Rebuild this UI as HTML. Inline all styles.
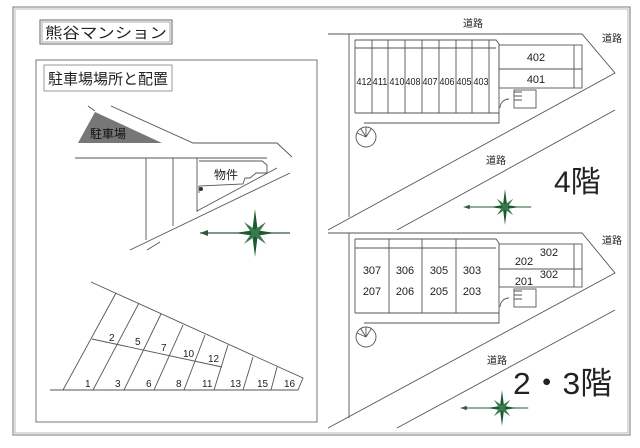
<!DOCTYPE html>
<html><head><meta charset="utf-8"><style>
body{margin:0;background:#fff}
svg{display:block}
text{font-family:"Liberation Sans","Noto Sans CJK JP",sans-serif;fill:#222}
</style></head><body>
<svg width="640" height="448" viewBox="0 0 640 448" xmlns="http://www.w3.org/2000/svg">
<defs>
<g id="cmp">
 <line x1="-55" y1="0" x2="35" y2="0" stroke="#2a5a3a" stroke-width="1.2"/>
 <polygon points="-55,0 -47,-3 -47,3" fill="#2a5a3a"/>
 <polygon points="0,-24 3,0 0,24 -3,0" fill="#1e5a30"/>
 <polygon points="-20,0 0,-3 20,0 0,3" fill="#1e5a30"/>
 <polygon points="-11,-11 2,-2 11,11 -2,2" fill="#3a7a4a"/>
 <polygon points="11,-11 2,2 -11,11 -2,-2" fill="#3a7a4a"/>
</g>
</defs>
<g fill="none" stroke="#777" stroke-width="1">
<rect x="13" y="7" width="617" height="428"/>
<rect x="15" y="9" width="613" height="424" stroke="#bbb"/>
<rect x="36" y="60" width="281" height="362"/>
<rect x="40" y="20" width="132" height="24" stroke="#666"/>
<rect x="42" y="22" width="128" height="20" stroke="#aaa"/>
<rect x="44" y="65" width="128" height="26" stroke="#999"/>
</g>
<text x="45" y="38" font-size="15" textLength="122" lengthAdjust="spacingAndGlyphs">熊谷マンション</text>
<text x="48" y="84" font-size="15" textLength="120" lengthAdjust="spacingAndGlyphs">駐車場場所と配置</text>
<!-- left map -->
<g fill="none" stroke="#555" stroke-width="0.9">
<polyline points="111,106 193,143 277,143 292,157"/>
<line x1="88" y1="106" x2="95" y2="111"/>
<line x1="75" y1="158" x2="267" y2="158"/>
<polyline points="199,161 262,161 267,165 267,173 256,173 250,178 245,178 243,184 199,186 199,193"/>
<line x1="290" y1="173" x2="130" y2="250"/>
<line x1="277" y1="168" x2="197" y2="211"/>
<line x1="160" y1="242" x2="147" y2="250"/>
<line x1="146" y1="158" x2="146" y2="240"/>
<line x1="173" y1="158" x2="173" y2="226"/>
<line x1="197" y1="158" x2="197" y2="212"/>
</g>
<polygon points="95,112 78,143 162,143" fill="#777"/>
<text x="90" y="138" font-size="12" style="fill:#111">駐車場</text>
<circle cx="201" cy="189" r="2" fill="#333"/>
<text x="214" y="179" font-size="12">物件</text>
<use href="#cmp" transform="translate(255,233)"/>
<!-- parking lots -->
<g fill="none" stroke="#555" stroke-width="0.9">
<polyline points="91,282 303,378 298,390 50,390"/>
<line x1="116" y1="293" x2="63" y2="390"/>
<line x1="139" y1="303" x2="93" y2="390"/>
<line x1="161" y1="314" x2="124" y2="390"/>
<line x1="183" y1="325" x2="154" y2="390"/>
<line x1="205" y1="335" x2="184" y2="390"/>
<line x1="228" y1="345" x2="214" y2="390"/>
<line x1="253" y1="357" x2="243" y2="390"/>
<line x1="277" y1="367" x2="271" y2="390"/>
<line x1="92" y1="339" x2="222" y2="367"/>
</g>
<g font-size="10">
<text x="85" y="387">1</text><text x="115" y="387">3</text><text x="146" y="387">6</text><text x="176" y="387">8</text><text x="202" y="387">11</text><text x="230" y="387">13</text><text x="257" y="387">15</text><text x="284" y="387">16</text>
<text x="109" y="341">2</text><text x="135" y="345">5</text><text x="161" y="351">7</text><text x="183" y="357">10</text><text x="208" y="362">12</text>
</g>
<!-- 4F -->
<g fill="none" stroke="#555" stroke-width="0.9">
<polyline points="328,34 582,34 615,73 328,230"/>
<line x1="615" y1="110" x2="397" y2="230"/>
<line x1="349" y1="34" x2="349" y2="217"/>
<polyline points="355,40 496,40 499,44 499,123 364,123"/>
<line x1="355" y1="40" x2="355" y2="113"/>
<line x1="355" y1="48" x2="496" y2="48"/>
<line x1="355" y1="113" x2="499" y2="113"/>
<line x1="372" y1="40" x2="372" y2="113"/><line x1="388" y1="40" x2="388" y2="113"/><line x1="405" y1="40" x2="405" y2="113"/><line x1="422" y1="40" x2="422" y2="113"/><line x1="439" y1="40" x2="439" y2="113"/><line x1="456" y1="40" x2="456" y2="113"/><line x1="472" y1="40" x2="472" y2="113"/><line x1="489" y1="40" x2="489" y2="113"/>
<rect x="499" y="45" width="83" height="43"/>
<line x1="499" y1="69" x2="582" y2="69"/>
<line x1="574" y1="45" x2="574" y2="88"/>
<rect x="514" y="90" width="22" height="18"/>
<path d="M514,92 h8 M514,96 h8 M514,100 h8"/>
<path d="M500,108 a9,9 0 0 1 9,-9"/>
<circle cx="366" cy="137" r="10"/>
<path d="M366,137 l-9,-4 M366,137 l-5,-8 M366,137 l0,-10 M366,137 l5,-8"/>
</g>
<g font-size="10" text-anchor="middle">
<text x="364" y="85" textLength="15" lengthAdjust="spacingAndGlyphs">412</text><text x="380" y="85" textLength="15" lengthAdjust="spacingAndGlyphs">411</text><text x="397" y="85" textLength="15" lengthAdjust="spacingAndGlyphs">410</text><text x="413" y="85" textLength="15" lengthAdjust="spacingAndGlyphs">408</text><text x="430" y="85" textLength="15" lengthAdjust="spacingAndGlyphs">407</text><text x="447" y="85" textLength="15" lengthAdjust="spacingAndGlyphs">406</text><text x="464" y="85" textLength="15" lengthAdjust="spacingAndGlyphs">405</text><text x="481" y="85" textLength="15" lengthAdjust="spacingAndGlyphs">403</text>
</g>
<g font-size="11" text-anchor="middle">
<text x="536" y="61">402</text><text x="536" y="83">401</text>
</g>
<g font-size="10" text-anchor="middle">
<text x="473" y="27">道路</text><text x="612" y="42">道路</text><text x="496" y="164">道路</text>
<text x="612" y="244">道路</text><text x="497" y="364">道路</text>
</g>
<text x="554" y="192" font-size="30">4階</text>
<use href="#cmp" transform="translate(505,207) scale(0.75)"/>
<!-- 2-3F -->
<g fill="none" stroke="#555" stroke-width="0.9">
<polyline points="328,233 582,233 615,273 328,428"/>
<line x1="615" y1="310" x2="397" y2="428"/>
<line x1="349" y1="233" x2="349" y2="418"/>
<polyline points="355,239 496,239 499,243 499,323 364,323"/>
<line x1="355" y1="239" x2="355" y2="313"/>
<line x1="355" y1="248" x2="496" y2="248"/>
<line x1="355" y1="313" x2="499" y2="313"/>
<line x1="389" y1="239" x2="389" y2="313"/><line x1="422" y1="239" x2="422" y2="313"/><line x1="456" y1="239" x2="456" y2="313"/>
<rect x="499" y="244" width="83" height="43"/>
<line x1="499" y1="269" x2="582" y2="269"/>
<line x1="574" y1="244" x2="574" y2="287"/>
<rect x="514" y="289" width="22" height="18"/>
<path d="M514,291 h8 M514,295 h8 M514,299 h8"/>
<path d="M500,307 a9,9 0 0 1 9,-9"/>
<circle cx="366" cy="337" r="10"/>
<path d="M366,337 l-9,-4 M366,337 l-5,-8 M366,337 l0,-10 M366,337 l5,-8"/>
</g>
<g font-size="11" text-anchor="middle">
<text x="372" y="274">307</text><text x="405" y="274">306</text><text x="439" y="274">305</text><text x="472" y="274">303</text>
<text x="372" y="295">207</text><text x="405" y="295">206</text><text x="439" y="295">205</text><text x="472" y="295">203</text>
<text x="524" y="265">202</text><text x="549" y="256">302</text><text x="524" y="285">201</text><text x="549" y="278">302</text>
</g>
<text x="513" y="394" font-size="31" textLength="99" lengthAdjust="spacingAndGlyphs">2・3階</text>
<use href="#cmp" transform="translate(502,408) scale(0.75)"/>
</svg>
</body></html>
